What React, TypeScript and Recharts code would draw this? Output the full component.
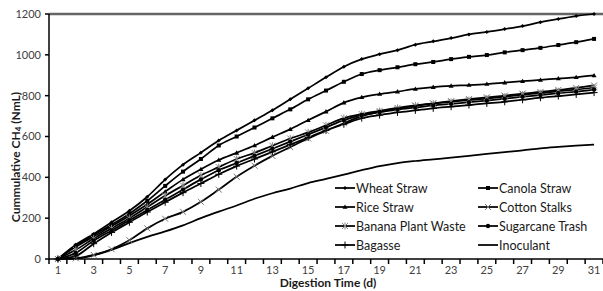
import React from 'react';
import { LineChart, Line, XAxis, YAxis, ReferenceLine, Label } from 'recharts';

const days = [1, 2, 3, 4, 5, 6, 7, 8, 9, 10, 11, 12, 13, 14, 15, 16, 17, 18, 19, 20, 21, 22, 23, 24, 25, 26, 27, 28, 29, 30, 31];
const wheatStraw = [0, 70, 123, 180, 236, 305, 389, 462, 521, 580, 630, 679, 728, 782, 836, 890, 942, 979, 1003, 1023, 1050, 1066, 1082, 1100, 1112, 1126, 1141, 1160, 1176, 1190, 1200];
const canolaStraw = [0, 65, 118, 168, 222, 285, 358, 428, 490, 556, 600, 644, 689, 733, 782, 825, 868, 906, 925, 939, 954, 965, 979, 990, 999, 1012, 1023, 1034, 1048, 1062, 1078];
const riceStraw = [0, 60, 110, 160, 212, 268, 330, 390, 440, 485, 520, 556, 597, 636, 680, 722, 766, 792, 808, 820, 833, 842, 848, 852, 857, 864, 871, 877, 884, 890, 899];
const cottonStalks = [0, 3, 20, 48, 92, 150, 197, 231, 280, 340, 403, 457, 505, 548, 590, 628, 665, 700, 720, 735, 750, 762, 773, 783, 792, 800, 810, 818, 828, 838, 850];
const bananaPlantWaste = [0, 45, 100, 150, 200, 255, 310, 360, 410, 450, 490, 520, 555, 590, 620, 655, 690, 710, 725, 740, 752, 762, 770, 778, 786, 795, 805, 812, 822, 830, 840];
const sugarcaneTrash = [0, 30, 90, 140, 190, 240, 290, 340, 390, 435, 470, 505, 540, 575, 610, 645, 680, 705, 720, 732, 742, 752, 760, 768, 776, 785, 795, 803, 812, 820, 830];
const bagasse = [0, 15, 75, 130, 180, 230, 278, 325, 370, 415, 455, 490, 525, 560, 595, 630, 660, 690, 705, 718, 728, 738, 746, 754, 762, 770, 780, 790, 798, 806, 815];
const inoculant = [0, 3, 18, 45, 78, 108, 135, 165, 200, 232, 262, 295, 322, 345, 372, 392, 413, 435, 455, 470, 480, 488, 496, 505, 515, 524, 532, 542, 549, 555, 560];

const xTickLabels = [1, 3, 5, 7, 9, 11, 13, 15, 17, 19, 21, 23, 25, 27, 29, 31];
const yTicks = [0, 200, 400, 600, 800, 1000, 1200];

const seriesNames = ['Wheat Straw', 'Canola Straw', 'Rice Straw', 'Cotton Stalks', 'Banana Plant Waste', 'Sugarcane Trash', 'Bagasse', 'Inoculant'];
const seriesKeys = ['wheat', 'canola', 'rice', 'cotton', 'banana', 'sugarcane', 'bagasse', 'inoculant'];
const seriesShapes = ['diamond', 'square', 'triangle', 'cross', 'star', 'circle', 'plus', 'none'];

const data = days.map((d, i) => ({
  day: d,
  wheat: wheatStraw[i],
  canola: canolaStraw[i],
  rice: riceStraw[i],
  cotton: cottonStalks[i],
  banana: bananaPlantWaste[i],
  sugarcane: sugarcaneTrash[i],
  bagasse: bagasse[i],
  inoculant: inoculant[i],
}));

const allXTicks: number[] = [];
for (let i = 0; i <= days.length; i++) {
  allXTicks.push(days[0] - 0.5 + i);
  if (i < days.length && xTickLabels.includes(days[i])) allXTicks.push(days[i]);
}

const FONT = 'Lato, "Liberation Sans", sans-serif';

function Marker({ shape, cx, cy }: { shape: string; cx: number; cy: number }) {
  switch (shape) {
    case 'diamond':
      return <polygon points={`${cx},${cy - 2} ${cx + 2},${cy} ${cx},${cy + 2} ${cx - 2},${cy}`} fill="#000" />;
    case 'square':
      return <rect x={cx - 2} y={cy - 2} width={4} height={4} fill="#000" />;
    case 'triangle':
      return <polygon points={`${cx},${cy - 2.5} ${cx + 2.5},${cy + 1.8} ${cx - 2.5},${cy + 1.8}`} fill="#000" />;
    case 'cross':
      return (
        <g stroke="#777" strokeWidth={1}>
          <line x1={cx - 3} y1={cy - 3} x2={cx + 3} y2={cy + 3} />
          <line x1={cx - 3} y1={cy + 3} x2={cx + 3} y2={cy - 3} />
        </g>
      );
    case 'star':
      return (
        <g stroke="#888" strokeWidth={1}>
          <line x1={cx - 3} y1={cy - 3} x2={cx + 3} y2={cy + 3} />
          <line x1={cx - 3} y1={cy + 3} x2={cx + 3} y2={cy - 3} />
          <line x1={cx} y1={cy - 3.5} x2={cx} y2={cy + 3.5} />
        </g>
      );
    case 'circle':
      return <circle cx={cx} cy={cy} r={2.2} fill="#000" />;
    case 'plus':
      return (
        <g stroke="#000" strokeWidth={1}>
          <line x1={cx - 3.5} y1={cy} x2={cx + 3.5} y2={cy} />
          <line x1={cx} y1={cy - 3.5} x2={cx} y2={cy + 3.5} />
        </g>
      );
    default:
      return <g />;
  }
}

const makeDot = (shape: string) => (props: any) => {
  const { cx, cy, index } = props;
  if (cx == null || cy == null) return <g key={`d-${index}`} />;
  return <g key={`d-${shape}-${index}`}><Marker shape={shape} cx={cx} cy={cy} /></g>;
};

const XTick = (props: any) => {
  const { x, y, payload } = props;
  const v = payload.value;
  if (v % 1 !== 0) {
    return <line x1={x} x2={x} y1={y} y2={y + 5} stroke="#000" strokeWidth={1.5} />;
  }
  if (xTickLabels.includes(v)) {
    return (
      <text x={x} y={y + 15} textAnchor="middle" fontSize={11} fill="#404040" fontFamily={FONT}>
        {v}
      </text>
    );
  }
  return <g />;
};

const YTitle = (props: any) => {
  const cx = 15;
  const cy = 157;
  return (
    <text
      x={cx}
      y={cy}
      transform={`rotate(-90 ${cx} ${cy})`}
      textAnchor="middle"
      dominantBaseline="central"
      fontSize={12}
      fontWeight="bold"
      fill="#1a1a1a"
      fontFamily={FONT}
    >
      Cummulative CH
      <tspan fontSize={8} dy={3}>4</tspan>
      <tspan dy={-3}> (NmL)</tspan>
    </text>
  );
};

const XTitle = (props: any) => {
  const vb = props.viewBox || { x: 49, width: 554 };
  return (
    <text
      x={vb.x + vb.width / 2 + 2}
      y={287}
      textAnchor="middle"
      fontSize={12}
      fontWeight="bold"
      fill="#1a1a1a"
      fontFamily={FONT}
    >
      Digestion Time (d)
    </text>
  );
};

function LegendItem({ name, shape, x, y }: { name: string; shape: string; x: number; y: number }) {
  return (
    <g>
      <line x1={x} x2={x + 20} y1={y} y2={y} stroke="#000" strokeWidth={1.75} />
      <Marker shape={shape} cx={x + 10} cy={y} />
      <text x={x + 21} y={y} dominantBaseline="central" fontSize={12.5} fill="#1a1a1a" fontFamily={FONT}>
        {name}
      </text>
    </g>
  );
}

function ChartLegend() {
  const rowY = [188, 207, 226, 245];
  const colX = [335, 478];
  return (
    <svg width={603} height={291} style={{ position: 'absolute', left: 0, top: 0, pointerEvents: 'none' }}>
      {seriesNames.map((n, i) => (
        <LegendItem key={n} name={n} shape={seriesShapes[i]} x={colX[i % 2]} y={rowY[Math.floor(i / 2)]} />
      ))}
    </svg>
  );
}

export default function App() {
  return (
    <div style={{ position: 'absolute', left: 0, top: 0, width: 603, height: 291, background: '#fff', overflow: 'hidden' }}>
      <LineChart width={603} height={291} data={data} margin={{ top: 14, right: 0, bottom: 0, left: 0 }}>
        <ReferenceLine y={1200} stroke="#666" strokeWidth={2.5} />
        <XAxis
          dataKey="day"
          type="number"
          domain={[0.5, 31.5]}
          ticks={allXTicks}
          interval={0}
          tickSize={0}
          tickMargin={0}
          tick={<XTick />}
          axisLine={{ stroke: '#000', strokeWidth: 1.5 }}
          tickLine={false}
          height={32}
        >
          <Label content={<XTitle />} />
        </XAxis>
        <YAxis
          type="number"
          domain={[0, 1200]}
          ticks={yTicks}
          interval={0}
          width={49}
          tickSize={4}
          tickMargin={4}
          axisLine={{ stroke: '#000', strokeWidth: 1.5 }}
          tickLine={{ stroke: '#000', strokeWidth: 1.5 }}
          tick={{ fontSize: 11, fill: '#404040', fontFamily: FONT }}
        >
          <Label content={<YTitle />} />
        </YAxis>
        {seriesKeys.map((k, i) => (
          <Line
            key={k}
            dataKey={k}
            name={seriesNames[i]}
            type="monotone"
            stroke="#000"
            strokeWidth={1.75}
            dot={seriesShapes[i] === 'none' ? false : makeDot(seriesShapes[i])}
            activeDot={false}
            isAnimationActive={false}
          />
        ))}
      </LineChart>
      <ChartLegend />
    </div>
  );
}
